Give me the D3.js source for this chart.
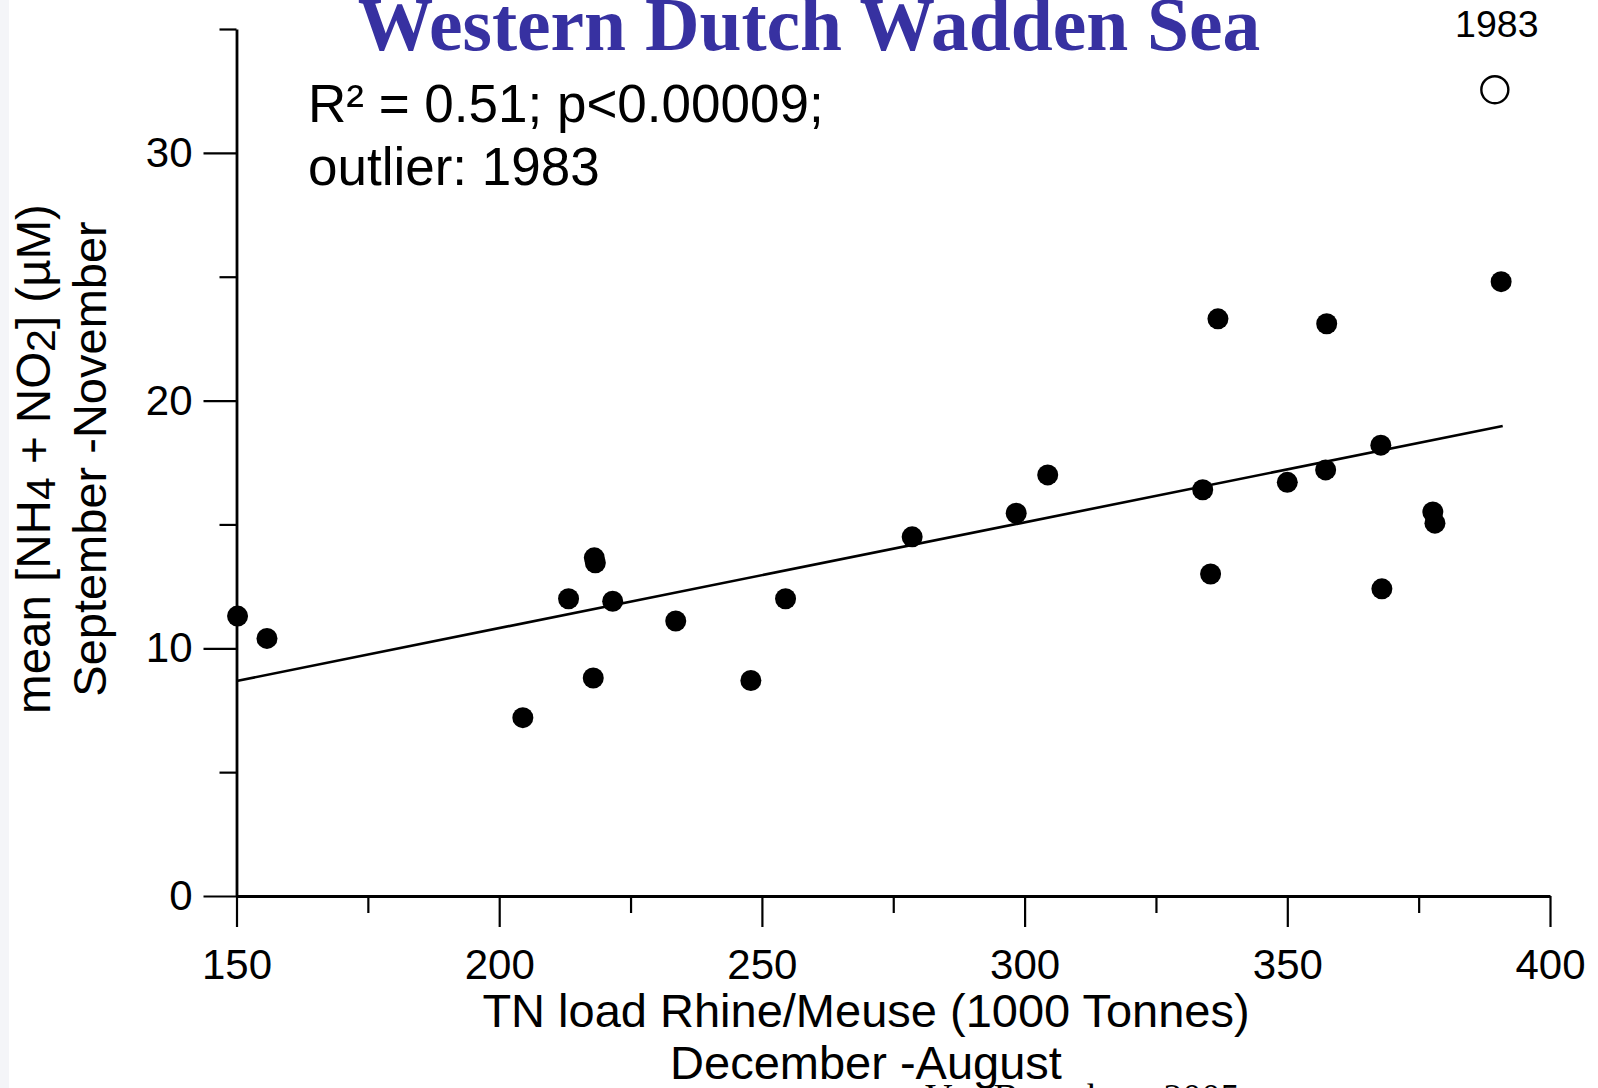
<!DOCTYPE html>
<html>
<head>
<meta charset="utf-8">
<script src="https://cdn.jsdelivr.net/npm/d3@7"></script>
<style>
  html, body { margin: 0; padding: 0; background: #ffffff; overflow: hidden; }
  svg { display: block; }
</style>
</head>
<body>
<svg id="chart" width="1598" height="1088"></svg>
<script>
// ---- data ----
const loadTN = [150.2, 155.8, 204.5, 213.2, 218.1, 218.3, 217.9, 221.6, 233.6, 247.9, 254.5, 278.6, 298.4, 304.4, 333.9, 335.4, 336.8, 350.0, 357.3, 357.5, 367.8, 368.0, 377.7, 378.1, 390.7];
const meanDIN = [11.3, 10.4, 7.2, 12.0, 13.65, 13.45, 8.8, 11.9, 11.1, 8.7, 12.0, 14.5, 15.45, 17.0, 16.4, 13.0, 23.3, 16.7, 17.2, 23.1, 18.2, 12.4, 15.5, 15.05, 24.8];
const outlierX = [389.5];
const outlierY = [32.55];
const outlierLabel = ["1983"];
const fitX = [150, 391];
const fitY = [8.68, 18.97];
const xMajorTicks = [150, 200, 250, 300, 350, 400];
const xMinorTicks = [175, 225, 275, 325, 375];
const yMajorTicks = [0, 10, 20, 30];
const yMinorTicks = [5, 15, 25, 35];
const titleText = "Western Dutch Wadden Sea";
const statsLines = ["R\u00B2 = 0.51; p<0.00009;", "outlier: 1983"];
const xLabelLines = ["TN load Rhine/Meuse (1000 Tonnes)", "December -August"];
const yLabelLine2 = "September -November";
const footerText = "Van Beusekom 2005";

// ---- layout ----
const svg = d3.select("#chart");
const SANS = "'Liberation Sans', Arial, Helvetica, sans-serif";
const SERIF = "'Liberation Serif', 'Times New Roman', serif";

const x = d3.scaleLinear().domain([150, 400]).range([236.5, 1550]);
const y = d3.scaleLinear().domain([0, 35]).range([896, 29]);

// faint left strip
svg.append("rect").attr("x", 0).attr("y", 0).attr("width", 9).attr("height", 1088).attr("fill", "#f4f5f8");

// axes
const axisStroke = 2.8;
function styleAxis(g) {
  g.selectAll("path.domain").attr("stroke", "#000").attr("stroke-width", axisStroke);
  g.selectAll(".tick line").attr("stroke", "#000").attr("stroke-width", 2.2);
  g.selectAll(".tick text").attr("fill", "#000").attr("font-family", SANS).attr("font-size", 42);
}

const gx = svg.append("g").attr("transform", `translate(0,${y(0)})`)
  .call(d3.axisBottom(x).tickValues(xMajorTicks).tickSize(31).tickSizeOuter(0).tickPadding(22).tickFormat(d3.format("d")));
styleAxis(gx);
const gxm = svg.append("g").attr("transform", `translate(0,${y(0)})`)
  .call(d3.axisBottom(x).tickValues(xMinorTicks).tickSize(17).tickSizeOuter(0).tickFormat(""));
styleAxis(gxm);
gxm.select("path.domain").remove();

const gy = svg.append("g").attr("transform", `translate(${x(150)},0)`)
  .call(d3.axisLeft(y).tickValues(yMajorTicks).tickSize(33).tickSizeOuter(0).tickPadding(11).tickFormat(d3.format("d")));
styleAxis(gy);
const gym = svg.append("g").attr("transform", `translate(${x(150)},0)`)
  .call(d3.axisLeft(y).tickValues(yMinorTicks).tickSize(17).tickSizeOuter(0).tickFormat(""));
styleAxis(gym);
gym.select("path.domain").remove();

// regression line
svg.append("path")
  .datum(fitX.map((v, i) => [v, fitY[i]]))
  .attr("d", d3.line().x(d => x(d[0])).y(d => y(d[1])))
  .attr("fill", "none").attr("stroke", "#000").attr("stroke-width", 2.6);

// points
svg.append("g").selectAll("circle")
  .data(loadTN.map((v, i) => [v, meanDIN[i]]))
  .join("circle")
  .attr("cx", d => x(d[0])).attr("cy", d => y(d[1]))
  .attr("r", 10.5).attr("fill", "#000");

// outlier
svg.append("g").selectAll("circle")
  .data(outlierX.map((v, i) => [v, outlierY[i]]))
  .join("circle")
  .attr("cx", d => x(d[0])).attr("cy", d => y(d[1]))
  .attr("r", 13.5).attr("fill", "#fff").attr("stroke", "#000").attr("stroke-width", 2.4);
svg.append("g").selectAll("text")
  .data(outlierX.map((v, i) => [v, outlierY[i], outlierLabel[i]]))
  .join("text")
  .attr("x", d => x(d[0]) + 2).attr("y", d => y(d[1]) - 53)
  .attr("text-anchor", "middle").attr("font-family", SANS).attr("font-size", 37.5)
  .attr("fill", "#000").text(d => d[2]);

// title
svg.append("text").attr("x", 809).attr("y", 50).attr("text-anchor", "middle")
  .attr("font-family", SERIF).attr("font-weight", "bold").attr("font-size", 75.5)
  .attr("fill", "#3731a1").text(titleText);

// stats text
svg.selectAll("text.stats").data(statsLines).join("text").attr("class", "stats")
  .attr("x", 308).attr("y", (d, i) => 122 + i * 63)
  .attr("font-family", SANS).attr("font-size", 53).attr("fill", "#000").text(d => d);

// x label
svg.selectAll("text.xlab").data(xLabelLines).join("text").attr("class", "xlab")
  .attr("x", 866).attr("y", (d, i) => 1027 + i * 52)
  .attr("text-anchor", "middle").attr("font-family", SANS).attr("font-size", 47)
  .attr("fill", "#000").text(d => d);

// y label
const yl1 = svg.append("text").attr("transform", "translate(50,459) rotate(-90)")
  .attr("text-anchor", "middle").attr("font-family", SANS).attr("font-size", 47.5).attr("fill", "#000");
yl1.append("tspan").text("mean [NH");
yl1.append("tspan").attr("font-size", 41).attr("dy", 5).text("4");
yl1.append("tspan").attr("dy", -5).text(" + NO");
yl1.append("tspan").attr("font-size", 41).attr("dy", 5).text("2");
yl1.append("tspan").attr("dy", -5).text("] (\u00B5M)");
svg.append("text").attr("transform", "translate(106,459) rotate(-90)")
  .attr("text-anchor", "middle").attr("font-family", SANS).attr("font-size", 47)
  .attr("fill", "#000").text(yLabelLine2);

// clipped footer
svg.append("text").attr("x", 925).attr("y", 1110)
  .attr("font-family", SERIF).attr("font-size", 38).attr("fill", "#000").text(footerText);
</script>
</body>
</html>
